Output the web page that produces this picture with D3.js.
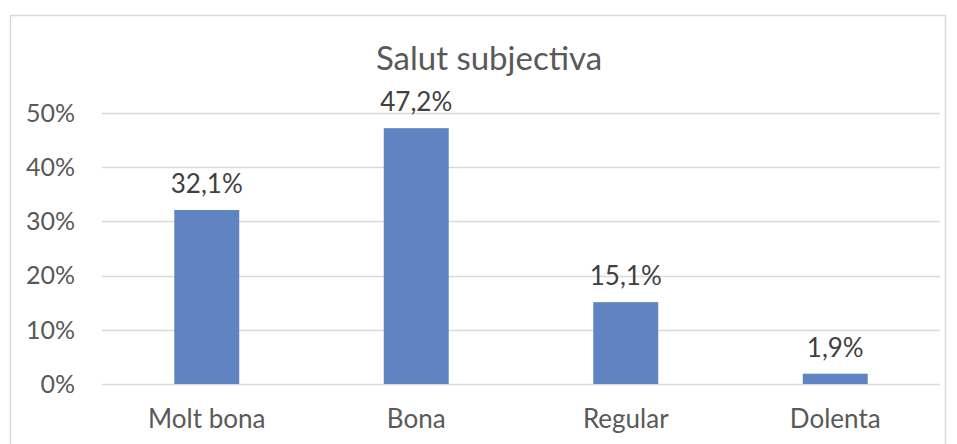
<!DOCTYPE html>
<html>
<head>
<meta charset="utf-8">
<script src="https://cdn.jsdelivr.net/npm/d3@7"></script>
<style>
  html, body { margin: 0; padding: 0; background: #fff; }
  svg { display: block; font-family: Lato, "Open Sans", sans-serif; }
</style>
</head>
<body>
<svg id="chart" width="957" height="444"></svg>
<script>
// Data
const categories = ['Molt bona', 'Bona', 'Regular', 'Dolenta'];
const values = [32.1, 47.2, 15.1, 1.9];
const yTicks = [0, 10, 20, 30, 40, 50];
const title = 'Salut subjectiva';

const plot = { left: 102, right: 940, top: 113, bottom: 384 };
const textColor = '#595959';
const gridColor = '#d9d9d9';
const barColor = '#6083c1';

const svg = d3.select('#chart');

// Chart area frame
svg.append('rect')
  .attr('x', 10.5).attr('y', 15.5)
  .attr('width', 935).attr('height', 440)
  .attr('fill', '#fff')
  .attr('stroke', '#d9d9d9')
  .attr('stroke-width', 1.5);

const x = d3.scaleBand()
  .domain(categories)
  .range([plot.left, plot.right])
  .paddingInner(0.69)
  .paddingOuter(0.345);

const y = d3.scaleLinear()
  .domain([0, 50])
  .range([plot.bottom, plot.top]);

// Gridlines
svg.append('g')
  .selectAll('line')
  .data(yTicks)
  .join('line')
  .attr('x1', plot.left).attr('x2', plot.right)
  .attr('y1', d => Math.round(y(d)) + 0.5)
  .attr('y2', d => Math.round(y(d)) + 0.5)
  .attr('stroke', gridColor)
  .attr('stroke-width', 1.5);

// Y tick labels
svg.append('g')
  .selectAll('text')
  .data(yTicks)
  .join('text')
  .attr('x', 75)
  .attr('y', d => y(d))
  .attr('dy', '0.35em')
  .attr('text-anchor', 'end')
  .attr('fill', textColor)
  .attr('font-size', 25)
  .text(d => d + '%');

// Bars
svg.append('g')
  .selectAll('rect')
  .data(values)
  .join('rect')
  .attr('x', (d, i) => x(categories[i]))
  .attr('width', x.bandwidth())
  .attr('y', d => y(d))
  .attr('height', d => y(0) - y(d))
  .attr('fill', barColor);

// Value labels
const fmt = v => v.toFixed(1).replace('.', ',') + '%';
svg.append('g')
  .selectAll('text')
  .data(values)
  .join('text')
  .attr('x', (d, i) => x(categories[i]) + x.bandwidth() / 2)
  .attr('y', d => y(d) - 17)
  .attr('text-anchor', 'middle')
  .attr('fill', '#404040')
  .attr('font-size', 26)
  .text(fmt);

// Category labels
svg.append('g')
  .selectAll('text')
  .data(categories)
  .join('text')
  .attr('x', d => x(d) + x.bandwidth() / 2)
  .attr('y', 428)
  .attr('text-anchor', 'middle')
  .attr('fill', textColor)
  .attr('font-size', 26)
  .text(d => d);

// Title
svg.append('text')
  .attr('x', 489)
  .attr('y', 70)
  .attr('text-anchor', 'middle')
  .attr('fill', textColor)
  .attr('font-size', 33)
  .text(title);
</script>
</body>
</html>
